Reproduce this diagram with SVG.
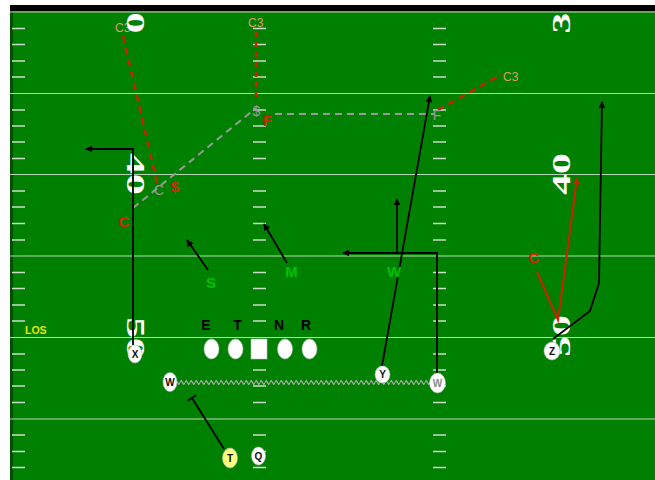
<svg xmlns="http://www.w3.org/2000/svg" width="655" height="480" viewBox="0 0 655 480">
<style>
.fl{stroke:#d8e8d8;stroke-width:1;opacity:.85}
.hash{stroke:#c8dcc8;stroke-width:1.5;fill:none}
.num{font-family:"Liberation Serif",serif;font-weight:bold;font-size:26px;fill:#fff;text-anchor:middle}
.c3{font-family:"Liberation Sans",Arial,sans-serif;font-size:12px;fill:#d9a066}
.red{font-family:"Liberation Sans",Arial,sans-serif;font-weight:bold;font-size:15px;fill:#dd2200;text-anchor:middle}
.gry{font-family:"Liberation Sans",Arial,sans-serif;font-size:14px;fill:#9a9a9a;text-anchor:middle}
.grn{font-family:"Liberation Sans",Arial,sans-serif;font-weight:bold;font-size:15px;fill:#00c000;text-anchor:middle}
.dl{font-family:"Liberation Sans",Arial,sans-serif;font-weight:bold;font-size:14px;fill:#000;text-anchor:middle}
.pl{fill:#fff;stroke:#bbb;stroke-width:.6}
.pt{font-family:"Liberation Sans",Arial,sans-serif;font-weight:bold;font-size:10px;fill:#111;text-anchor:middle}
.rt{stroke:#000;stroke-width:1.8;fill:none}
.rdash{stroke:#cc2200;stroke-width:2.4;fill:none;stroke-dasharray:7 5}
.gdash{stroke:#999;stroke-width:2;fill:none;stroke-dasharray:7 5}
</style>
<defs>
<marker id="ah" viewBox="0 0 10 10" refX="9" refY="5" markerWidth="7" markerHeight="7" markerUnits="userSpaceOnUse" orient="auto"><path d="M0,0L10,5L0,10z" fill="#000"/></marker>
<marker id="ahr" viewBox="0 0 10 10" refX="9" refY="5" markerWidth="7" markerHeight="7" markerUnits="userSpaceOnUse" orient="auto"><path d="M0,0L10,5L0,10z" fill="#cc2200"/></marker>
<pattern id="zig" x="0" y="379" width="5" height="6" patternUnits="userSpaceOnUse"><polyline points="0,3.5 1.25,1.6 2.5,3.5 3.75,5.4 5,3.5" fill="none" stroke="#a8a8a8" stroke-width="1.3"/></pattern>
<path id="hashes" d="M0 28.5h13M0 44.5h13M0 61h13M0 77h13M0 110h13M0 126h13M0 142h13M0 158.5h13M0 191h13M0 207h13M0 223.5h13M0 240h13M0 272.5h13M0 288.5h13M0 305h13M0 321h13M0 354h13M0 370h13M0 386h13M0 402.5h13M0 435h13M0 451.5h13M0 467.5h13"/>
</defs>
<g id="field">
<rect x="0" y="0" width="655" height="480" fill="#fff"/>
<rect x="10" y="11" width="645" height="469" fill="#008000"/>
<rect x="10" y="5" width="645" height="6" fill="#000"/>
<rect x="10" y="11" width="3" height="469" fill="#005000"/>
<line class="fl" x1="10" y1="12" x2="655" y2="12"/>
<line class="fl" x1="10" y1="93.5" x2="655" y2="93.5"/>
<line class="fl" x1="10" y1="174.5" x2="655" y2="174.5"/>
<line class="fl" x1="10" y1="256" x2="655" y2="256"/>
<line class="fl" x1="10" y1="337.5" x2="655" y2="337.5"/>
<line class="fl" x1="10" y1="419" x2="655" y2="419"/>
<use href="#hashes" class="hash" x="12" y="0"/>
<use href="#hashes" class="hash" x="253" y="0"/>
<use href="#hashes" class="hash" x="433" y="0"/>
</g>
<g id="labels-coverage">
<text class="c3" x="115" y="32">C3</text>
<text class="c3" x="248" y="27">C3</text>
<text class="c3" x="503" y="81">C3</text>
</g>
<g id="numbers">
<text class="num" x="0" y="8.6" transform="translate(136,23) rotate(90) scale(1.6,1)">0</text>
<text class="num" x="0" y="8.6" transform="translate(136,174) rotate(90) scale(1.6,1)">40</text>
<text class="num" x="0" y="8.6" transform="translate(136,338) rotate(90) scale(1.6,1)">50</text>
<text class="num" x="0" y="8.6" transform="translate(561,23) rotate(-90) scale(1.6,1)">3</text>
<text class="num" x="0" y="8.6" transform="translate(561,174) rotate(-90) scale(1.6,1)">40</text>
<text class="num" x="0" y="8.6" transform="translate(561,336) rotate(-90) scale(1.6,1)">50</text>
<text x="25" y="334" font-family="Liberation Sans,Arial,sans-serif" font-weight="bold" font-size="10.5" fill="#e6e600">LOS</text>
</g>
<g id="connectors">
<line class="rdash" x1="123" y1="36" x2="157" y2="183"/>
<line class="rdash" x1="256" y1="32" x2="256" y2="102" style="stroke-dasharray:5 5"/>
<line class="rdash" x1="438" y1="110" x2="502" y2="74"/>
<line class="gdash" x1="133" y1="208" x2="256" y2="108"/>
<line class="gdash" x1="275" y1="114" x2="434" y2="114"/>
<rect x="177" y="379" width="253" height="6" fill="url(#zig)"/>
<path class="rt" d="M133,345V149H86" marker-end="url(#ah)"/>
<path class="rt" d="M224,449L192,398"/>
<path class="rt" d="M187.8,400.7L196.2,395.3"/>
<path class="rt" d="M382,366L430,96" marker-end="url(#ah)"/>
<path class="rt" d="M437,374V253H343" marker-end="url(#ah)"/>
<path class="rt" d="M397,253V199" marker-end="url(#ah)"/>
<path class="rt" d="M553,339L590,311L599,283L602,102" marker-end="url(#ah)"/>
<path class="rt" d="M208,270L187,240" marker-end="url(#ah)"/>
<path class="rt" d="M287,263L264,224" marker-end="url(#ah)"/>
<path d="M537,272L558,320L577,178" fill="none" stroke="#cc2200" stroke-width="2" marker-end="url(#ahr)"/>
</g>
<g id="defense">
<text class="red" x="124" y="227">C</text>
<text class="red" x="175" y="192">$</text>
<text class="red" x="267.5" y="126">F</text>
<text class="red" x="534" y="263">C</text>
<text class="gry" x="159" y="195">C</text>
<text class="gry" x="256.5" y="116">$</text>
<text class="gry" x="437" y="120">F</text>
<text class="grn" x="211" y="288">S</text>
<text class="grn" x="291.5" y="277">M</text>
<text class="grn" x="394" y="277">W</text>
<text class="dl" x="206" y="330">E</text>
<text class="dl" x="237.5" y="330">T</text>
<text class="dl" x="279" y="330">N</text>
<text class="dl" x="306" y="330">R</text>
</g>
<g id="line">
<ellipse class="pl" cx="211.5" cy="349" rx="7.5" ry="10"/>
<ellipse class="pl" cx="235.5" cy="349" rx="7.5" ry="10"/>
<rect class="pl" x="251" y="339" width="16" height="20"/>
<ellipse class="pl" cx="285" cy="349" rx="7.5" ry="10"/>
<ellipse class="pl" cx="309.5" cy="349" rx="7.5" ry="10"/>
</g>
<g id="X"><ellipse class="pl" cx="135" cy="354" rx="7" ry="9"/><text class="pt" x="135" y="357.5">X</text></g>
<g id="W1"><ellipse class="pl" cx="170" cy="382" rx="7" ry="9.5"/><text class="pt" x="170" y="385.5">W</text></g>
<g id="Y"><ellipse class="pl" cx="382.5" cy="374.5" rx="7.5" ry="8.5"/><text class="pt" x="382.5" y="378">Y</text></g>
<g id="W2"><ellipse class="pl" cx="437.5" cy="383" rx="8" ry="10"/><text class="pt" x="437.5" y="386.5" style="fill:#888">W</text></g>
<g id="Z"><ellipse class="pl" cx="552" cy="351" rx="8" ry="9"/><text class="pt" x="552" y="354.5">Z</text></g>
<g id="T"><ellipse cx="230" cy="458" rx="7.5" ry="10" fill="#ffff80" stroke="#bbb" stroke-width=".6"/><text class="pt" x="230" y="461.5">T</text></g>
<g id="Q"><ellipse class="pl" cx="258.5" cy="456" rx="7" ry="9"/><text class="pt" x="258.5" y="459.5">Q</text></g>
</svg>
